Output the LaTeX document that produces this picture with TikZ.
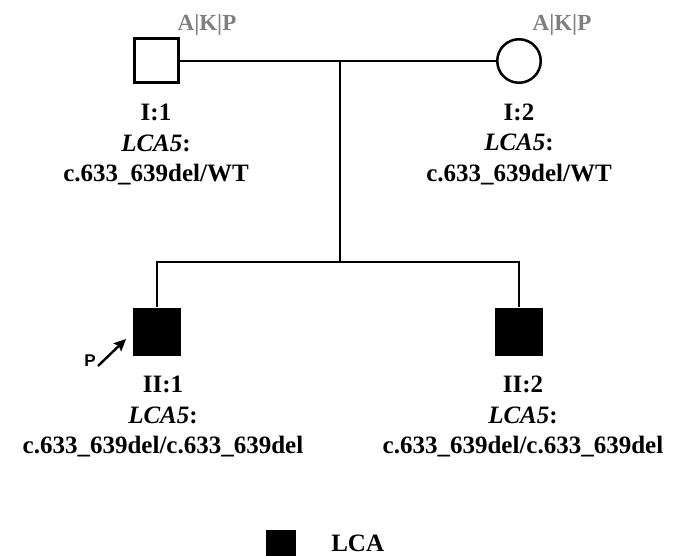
\documentclass[tikz,border=0pt]{standalone}
\usepackage{fontspec}
\setmainfont{Liberation Serif}
\newfontfamily\pfont{Liberation Sans}
\usetikzlibrary{positioning,arrows.meta}
\definecolor{akpgray}{RGB}{128,128,128}

\begin{document}
\begin{tikzpicture}[x=1pt,y=-1pt,line width=1.3pt,
  male/.style={rectangle,draw,line width=3pt,minimum size=44pt,inner sep=0pt},
  female/.style={circle,draw,line width=2.5pt,minimum size=43.5pt,inner sep=0pt},
  affected/.style={rectangle,fill=black,minimum size=48pt,inner sep=0pt},
  akp/.style={text=akpgray,font=\fontsize{23}{26}\selectfont\bfseries,inner sep=0pt},
  info/.style={align=center,font=\fontsize{25}{30.5}\selectfont\bfseries,inner sep=0pt}]

\useasboundingbox (0,0) rectangle (675,556);

% --- Generation I
\node[male] (i1) at (156,61) {};
\node[female] (i2) at (519,61) {};
\node[akp] (akp1) at (207,25) {A|K|P};
\node[akp] (akp2) at (562,25) {A|K|P};
\draw (i1.east) -- (i2.west);

% --- Generation II
\node[affected] (ii1) at (157,332) {};
\node[affected] (ii2) at (519,332) {};
\coordinate (mate) at (340,61);
\coordinate (sib) at (340,262);
\draw (mate) -- (sib);
\draw (ii1.north) |- (sib) -| (ii2.north);

% --- Proband arrow
\node[inner sep=0pt,font=\fontsize{17}{19}\pfont\bfseries] (p) at (90,361) {P};
\coordinate (ptail) at (98,366);
\coordinate (ptip) at (126,339);
\draw[-{Stealth[length=12pt,width=11pt,inset=2pt]},line width=2.4pt] (ptail) -- (ptip);

% --- Genotypes
\node[info,below=19pt of i1] (lab1) {I:1\\\textit{LCA5}:\\c.633\_639del/WT};
\node[info,below=19pt of i2] (lab2) {I:2\\\textit{LCA5}:\\c.633\_639del/WT};
\node[info,below=19pt of ii1,xshift=6pt] (lab3) {II:1\\\textit{LCA5}:\\c.633\_639del/c.633\_639del};
\node[info,below=19pt of ii2,xshift=4pt] (lab4) {II:2\\\textit{LCA5}:\\c.633\_639del/c.633\_639del};

% --- Legend
\node[fill=black,minimum size=30pt,inner sep=0pt] (legsq) at (281,545) {};
\node[info,right=34pt of legsq,yshift=1.5pt] (legtxt) {LCA};

\end{tikzpicture}
\end{document}
